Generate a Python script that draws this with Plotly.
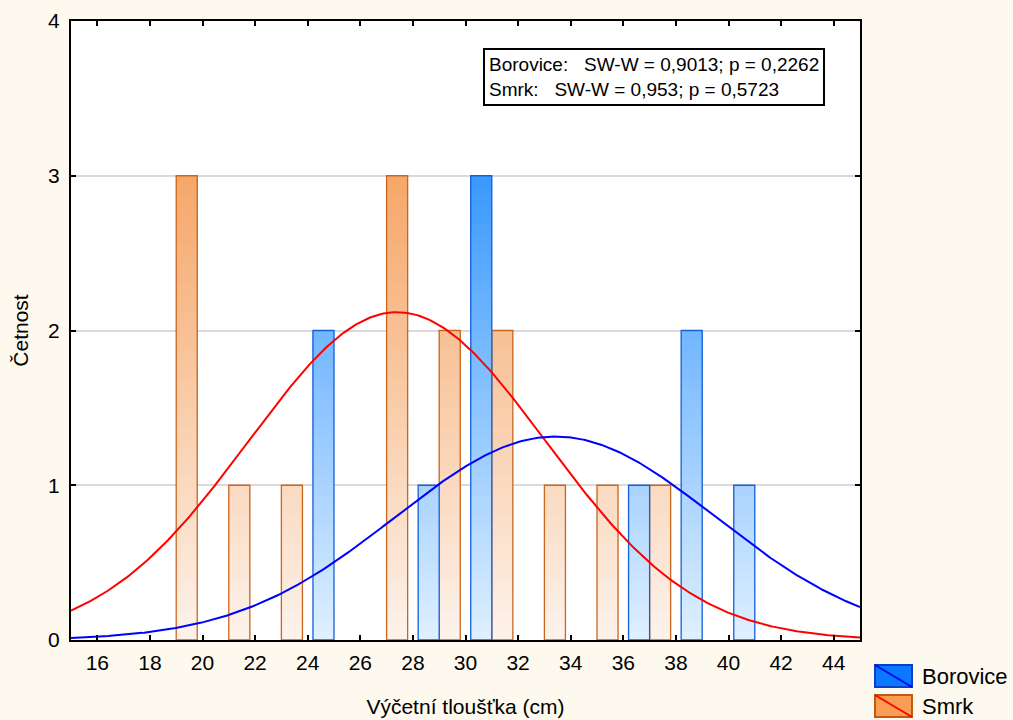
import numpy as np
import plotly.graph_objects as go

# ---- data ----
bin_centers = [20, 22, 24, 26, 28, 30, 32, 34, 36, 38, 40]
smrk_counts = [3, 1, 1, 0, 3, 2, 2, 1, 1, 1, 0]
borovice_counts = [0, 0, 2, 0, 1, 3, 0, 0, 1, 2, 1]
bin_width = 2
# fitted normal curves (mean, sd, n)
smrk_fit = dict(mean=27.4, sd=5.65, n=15)
borovice_fit = dict(mean=33.42, sd=6.07, n=10)
legend_stats = [
    "Borovice:\u00a0\u00a0\u00a0SW-W = 0,9013; p = 0,2262",
    "Smrk:\u00a0\u00a0\u00a0SW-W = 0,953; p = 0,5723",
]
series_names = ["Borovice", "Smrk"]

fig = go.Figure()

def lerp(c0, c1, t):
    return "rgb(%d,%d,%d)" % tuple(round(a + (b - a) * t) for a, b in zip(c0, c1))

def gradient_bars(counts, offset, c_bottom, c_top, edge):
    vals = np.array(counts, dtype=float)
    nslices = 48
    top = 3.0
    for i in range(nslices):
        t = top * i / nslices
        mask = vals > t
        heights = [v - t if m else None for v, m in zip(vals, mask)]
        bases = [t] * len(vals)
        fig.add_trace(go.Bar(
            x=bin_centers, y=heights, base=bases, width=0.8, offset=offset,
            marker=dict(color=lerp(c_bottom, c_top, t / top), line=dict(width=0)),
            showlegend=False, hoverinfo="skip"))
    fig.add_trace(go.Bar(
        x=bin_centers, y=[v if v > 0 else None for v in vals], width=0.8, offset=offset,
        marker=dict(color="rgba(0,0,0,0)", line=dict(width=1.3, color=edge)),
        showlegend=False, hoverinfo="skip"))

gradient_bars(smrk_counts, -1.0, (253, 242, 234), (245, 166, 103), "#C8661E")
gradient_bars(borovice_counts, 0.2, (222, 239, 255), (56, 152, 255), "#1560D8")

xs = np.linspace(15, 45, 400)
def normal_curve(fit):
    return fit["n"] * bin_width / (fit["sd"] * np.sqrt(2 * np.pi)) * np.exp(-(xs - fit["mean"]) ** 2 / (2 * fit["sd"] ** 2))

fig.add_trace(go.Scatter(x=xs, y=normal_curve(smrk_fit), mode="lines",
                         line=dict(color="#FF0000", width=2), showlegend=False, hoverinfo="skip"))
fig.add_trace(go.Scatter(x=xs, y=normal_curve(borovice_fit), mode="lines",
                         line=dict(color="#0000FF", width=2), showlegend=False, hoverinfo="skip"))

font = "Liberation Sans, Arial, sans-serif"
fig.update_layout(
    width=1013, height=720,
    margin=dict(l=71, r=153, t=21, b=80, autoexpand=False),
    paper_bgcolor="#FEF9EE", plot_bgcolor="white",
    barmode="overlay",
    font=dict(family=font, size=21, color="black"),
    showlegend=False,
)
fig.update_xaxes(range=[15, 45], tick0=16, dtick=2, ticks="inside", ticklen=5, tickwidth=2,
                 tickcolor="black", mirror="allticks", showline=True, linecolor="black", linewidth=2,
                 showgrid=False, zeroline=False, ticklabelstandoff=3, automargin=False,
                 title=dict(text="Výčetní tloušťka (cm)", standoff=26, font=dict(size=21)),
                 tickfont=dict(size=21))
fig.update_yaxes(range=[0, 4], dtick=1, ticks="inside", ticklen=5, tickwidth=2,
                 tickcolor="black", mirror="allticks", showline=True, linecolor="black", linewidth=2,
                 showgrid=True, gridcolor="#DADADA", gridwidth=2, zeroline=False,
                 ticklabelstandoff=5, automargin=False,
                 title=dict(text="Četnost", standoff=14, font=dict(size=21)),
                 tickfont=dict(size=21))

# stats box
fig.add_annotation(xref="paper", yref="paper", x=(483 - 71) / 789, y=(640 - 48) / 619,
                   xanchor="left", yanchor="top", align="left",
                   text="<br>".join(legend_stats), showarrow=False,
                   font=dict(size=19), bgcolor="white", bordercolor="black", borderwidth=2,
                   borderpad=4)

# custom legend
def px_x(p):
    return (p - 71) / 789
def px_y(p):
    return (640 - p) / 619

legend_items = [
    (series_names[0], 665, "#0A78FF", "#0A3FC8", "#0000FF"),
    (series_names[1], 695, "#F99D55", "#C05A10", "#FF0000"),
]
for name, top, fill, border, diag in legend_items:
    fig.add_shape(type="rect", xref="paper", yref="paper",
                  x0=px_x(875), x1=px_x(912), y0=px_y(top + 22), y1=px_y(top),
                  fillcolor=fill, line=dict(color=border, width=2))
    fig.add_shape(type="line", xref="paper", yref="paper",
                  x0=px_x(875), x1=px_x(912), y0=px_y(top), y1=px_y(top + 22),
                  line=dict(color=diag, width=2))
    fig.add_annotation(xref="paper", yref="paper", x=px_x(920), y=px_y(top + 11),
                       xanchor="left", yanchor="middle", text=name, showarrow=False,
                       font=dict(size=22))

fig.write_html("out.html")
